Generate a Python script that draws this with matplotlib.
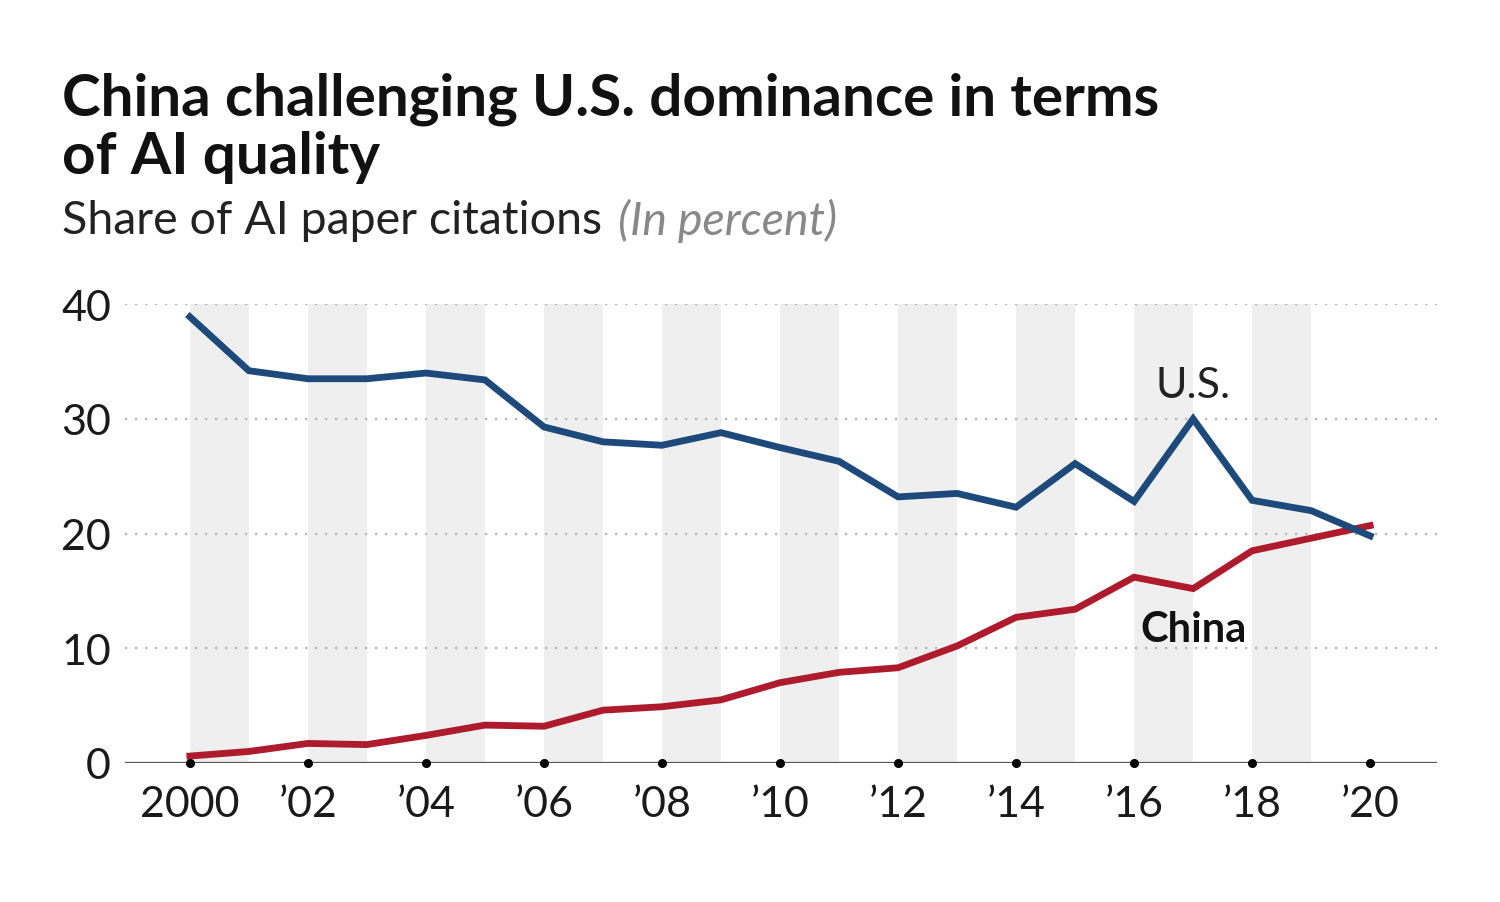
import matplotlib
matplotlib.use("Agg")
import matplotlib.pyplot as plt
from matplotlib.transforms import offset_copy

years = list(range(2000, 2021))
us = [38.9, 34.2, 33.5, 33.5, 34.0, 33.4, 29.3, 28.0, 27.7, 28.8, 27.5, 26.3,
      23.2, 23.5, 22.3, 26.1, 22.8, 30.0, 22.9, 22.0, 19.8]
china = [0.6, 1.0, 1.7, 1.6, 2.4, 3.3, 3.2, 4.6, 4.9, 5.5, 7.0, 7.9,
         8.3, 10.2, 12.7, 13.4, 16.2, 15.2, 18.5, 19.6, 20.7]
xtick_years = list(range(2000, 2021, 2))
xtick_labels = ["2000"] + ["\u2019%02d" % (y % 100) for y in xtick_years[1:]]
yticks = [0, 10, 20, 30, 40]

plt.rcParams["font.family"] = ["Lato", "DejaVu Sans"]

fig = plt.figure(figsize=(15, 9.03), dpi=100)
ax = fig.add_axes([0.0833, 0.154, 0.875, 0.508])

# alternating grey year bands
for y in years[:-1:2]:
    ax.axvspan(y, y + 1, color="#efefef", lw=0, zorder=0)

for v in yticks[1:]:
    ax.axhline(v, color="#b5b5b5", lw=1.6, ls=(0, (1, 3.5)), zorder=1)
ax.axhline(0, color="#555555", lw=1.6, zorder=2)

ax.plot(years, us, color="#1d4a7a", lw=4.9, zorder=4, clip_on=False,
        solid_joinstyle="miter")
ax.plot(years, china, color="#ad1b2c", lw=4.9, zorder=3, clip_on=False,
        solid_joinstyle="miter")
ax.plot(xtick_years, [0] * len(xtick_years), "o", color="black", ms=5.5,
        zorder=5, clip_on=False)

ax.text(2017.0, 31.3, "U.S.", fontsize=31, ha="center",
        va="bottom", color="#222222")
ax.text(2017.0, 11.7, "China", fontsize=30, fontweight="bold", ha="center",
        va="center", color="#111111")

ax.set_xlim(1998.9, 2021.14)
ax.set_ylim(0, 40)
ax.set_xticks(xtick_years)
ax.set_xticklabels(xtick_labels)
ax.set_yticks(yticks)
ax.tick_params(length=0, labelsize=31, colors="#1a1a1a", pad=16)
ax.tick_params(axis="y", pad=10)
for s in ax.spines.values():
    s.set_visible(False)

fig.text(0.041, 0.92, "China challenging U.S. dominance in terms\nof AI quality",
         fontsize=42, fontweight="bold", va="top", ha="left", linespacing=1.12,
         color="#111111")
sub = fig.text(0.041, 0.755, "Share of AI paper citations", fontsize=33.5,
               va="center", ha="left", color="#222222")
fig.canvas.draw()
w = sub.get_window_extent().width * 72 / fig.dpi
fig.text(0.041, 0.755, "(In percent)", fontsize=33.5, style="italic",
         va="center", ha="left", color="#888888",
         transform=offset_copy(fig.transFigure, fig=fig, x=w + 12, units="points"))

fig.savefig("out.png", dpi=100, facecolor="white")
